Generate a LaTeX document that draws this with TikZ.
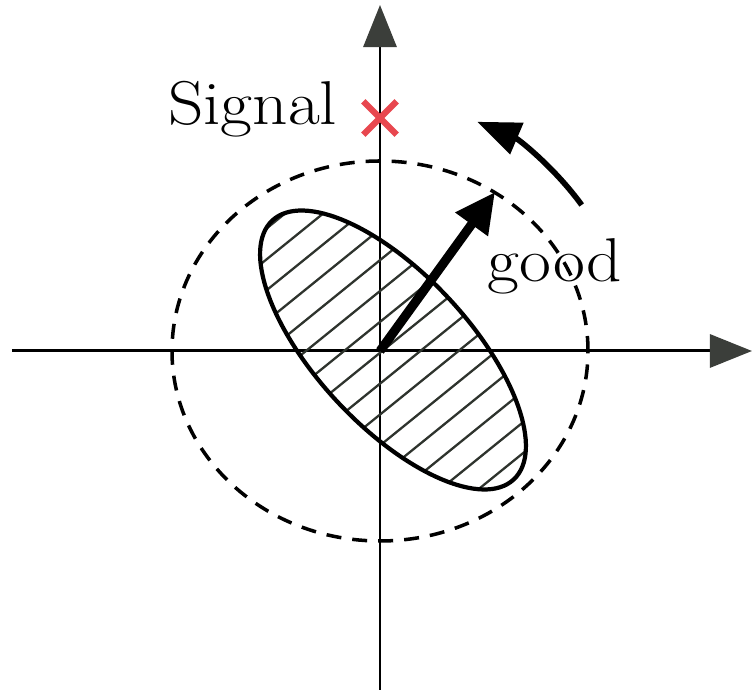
\documentclass[tikz,border=0pt]{standalone}
\usepackage{tikz}
\usetikzlibrary{arrows.meta,shapes.misc}
\definecolor{axisgray}{HTML}{3B3E3A}
\definecolor{sigred}{HTML}{E8474F}
\definecolor{hatchink}{HTML}{2E332D}

\begin{document}
\begin{tikzpicture}[x=0.01cm,y=0.01cm,
  axis/.style={line width=0.85pt,-{Triangle[length=0.42cm,width=0.33cm,color=axisgray]}},
  lbl/.style={font=\fontsize{17.6}{20}\selectfont,inner sep=0pt,xscale=1.12},
  sig/.style={cross out,draw=sigred,line width=1.8pt,minimum size=0.27cm,inner sep=0pt},
  hatch/.style={hatchink,line width=0.65pt}]
\path[use as bounding box] (-380,-344) rectangle (375,351);
\fill[white] (-380,-344) rectangle (375,351);
\coordinate (O) at (0,0);
\coordinate (xl) at (-368,0);
\coordinate (xr) at (372,0);
\coordinate (yb) at (0,-339);
\coordinate (yt) at (0,346);
\draw[axis] (xl) -- (xr);
\draw[axis] (yb) -- (yt);

% dashed circle
\draw[line width=1pt,dash pattern=on 0.15cm off 0.11cm] (O) ellipse [x radius=208,y radius=190];

% hatched ellipse
\begin{scope}[shift={(13,1)}]
  \begin{scope}
    \clip[rotate=-47] (0,0) ellipse [x radius=177,y radius=76];
    \begin{scope}[rotate=39]
      \foreach \k in {-8,...,8}
        \draw[hatch] (-260,\k*24+6) -- (260,\k*24+6);
    \end{scope}
  \end{scope}
  \draw[line width=1.2pt,rotate=-47] (0,0) ellipse [x radius=177,y radius=76];
\end{scope}

% arrows
\coordinate (g) at (115,159);
\draw[line width=2.6pt,-{Triangle[length=0.4cm,width=0.38cm]}] (O) -- (g);
\coordinate (r0) at (35.9:249);
\draw[line width=1.6pt,-{Triangle[length=0.43cm,width=0.33cm]}] (r0) arc[start angle=35.9,end angle=67,radius=249];

% labels
\node[sig] (x) at (0,233) {};
\node[lbl,anchor=base east] (signal) at (-42,226) {Signal};
\node[lbl,anchor=base west] (good) at (107,69) {good};
\end{tikzpicture}
\end{document}
